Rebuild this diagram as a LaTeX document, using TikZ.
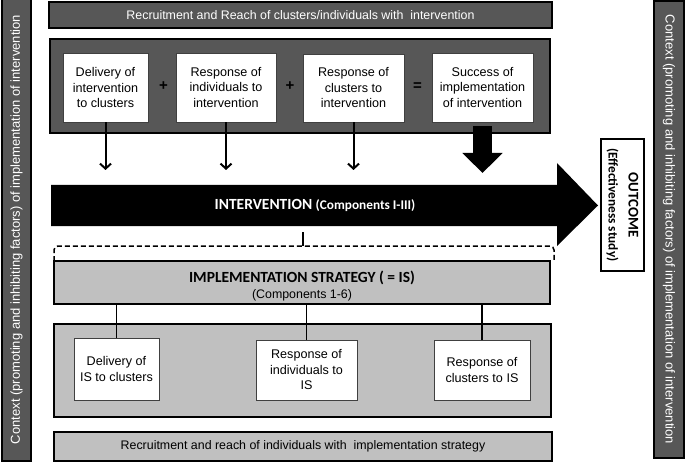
\documentclass[tikz,border=0pt]{standalone}
\usepackage{fontspec}
\setmainfont{Liberation Sans}
\newfontfamily\calib{Carlito}
\usetikzlibrary{arrows.meta}
\definecolor{dgray}{HTML}{575757}
\definecolor{lgray}{HTML}{C0C0C0}
\begin{document}
\begin{tikzpicture}[x=1pt,y=-1pt,
  darkbar/.style={draw=black, line width=1.6pt, fill=dgray, text=white, inner sep=0pt, font=\fontsize{12.4}{14}\selectfont},
  whitebox/.style={draw=black!75, line width=0.8pt, fill=white, align=center, inner sep=0pt, font=\fontsize{12.6}{15.5}\selectfont},
  lightbox/.style={draw=black, line width=1.9pt, fill=lgray, inner sep=0pt},
  thinarrow/.style={line width=2pt, -{Straight Barb[length=5pt,width=11pt]}},
  joinline/.style={line width=1.8pt},
  opsign/.style={font=\bfseries\fontsize{15}{15}\selectfont, inner sep=0pt}]
\useasboundingbox (0,0) rectangle (685,465);

% context bars
\node[darkbar, rotate=90, minimum width=463, minimum height=29, font=\fontsize{13}{14}\selectfont] (ctxl) at (16.5,229.5)
  {Context (promoting and inhibiting factors) of implementation of intervention};
\node[darkbar, rotate=-90, minimum width=457, minimum height=30, font=\fontsize{13}{14}\selectfont] (ctxr) at (669,229.5)
  {Context (promoting and inhibiting factors) of implementation of intervention};

% top
\node[darkbar, minimum width=503, minimum height=26] (top) at (300.5,15)
  {Recruitment and Reach of clusters/individuals with\ \ intervention};
\node[darkbar, line width=1.9pt, minimum width=500, minimum height=94] (upper) at (300,86) {};

\node[whitebox, minimum width=85, minimum height=69] (b1) at (105.5,87.5) {Delivery of\\intervention\\to clusters};
\node[whitebox, minimum width=100, minimum height=69] (b2) at (226,87.5) {Response of\\individuals to\\intervention};
\node[whitebox, minimum width=101, minimum height=68] (b3) at (353.5,88) {Response of\\clusters to\\intervention};
\node[whitebox, minimum width=101, minimum height=69] (b4) at (482.5,87.5) {Success of\\implementation\\of intervention};
\node[opsign] (p1) at (163.5,86) {+};
\node[opsign] (p2) at (290,86) {+};
\node[opsign] (eq) at (417.5,86.5) {=};

% big intervention arrow
\fill[black] (51,185) -- (557,185) -- (557,163) -- (598,205.5) -- (557,246) -- (557,226) -- (51,226) -- cycle;
\node[text=white, inner sep=0pt, font=\calib\bfseries\fontsize{15.5}{15}\selectfont] (intv) at (315,205.5)
  {INTERVENTION {\fontsize{13.3}{13}\selectfont(Components I-III)}};

\coordinate (arrend) at (0,170);
\coordinate (fatend) at (0,173);
\draw[thinarrow] (b1.south) -- (b1.south |- arrend);
\draw[thinarrow] (b2.south) -- (b2.south |- arrend);
\draw[thinarrow] (b3.south) -- (b3.south |- arrend);
\draw[line width=19pt, -{Triangle[width=39pt,length=20pt]}] ([yshift=-4pt]b4.south) -- (b4.south |- fatend);

% outcome
\node[draw=black, line width=1.5pt, fill=white, rotate=-90, minimum width=132, minimum height=43,
  align=center, inner sep=0pt, font=\calib\bfseries\fontsize{14.8}{20}\selectfont] (out) at (622.5,205)
  {OUTCOME\\{\fontsize{13.3}{20}\selectfont(Effectiveness study)}};

% implementation strategy
\node[lightbox, minimum width=496, minimum height=43] (is) at (302,282.5) {};
\node[inner sep=0pt, font=\calib\bfseries\fontsize{15.5}{15}\selectfont] (istitle) at (302,277.5) {IMPLEMENTATION STRATEGY ( = IS)};
\node[inner sep=0pt, font=\fontsize{12.4}{14}\selectfont] (issub) at (302,295.5) {(Components 1-6)};

% dashed brace
\coordinate (brl) at (54,261);
\coordinate (brr) at (554,261);
\coordinate (brtop) at (0,246);
\coordinate (stubtop) at (303,232);
\draw[line width=1.5pt, dash pattern=on 5pt off 3pt, rounded corners=4pt]
  (brl) -- (brl |- brtop) -- (brr |- brtop) -- (brr);
\draw[joinline] (stubtop) -- (stubtop |- brtop);

% lower group
\node[lightbox, minimum width=497, minimum height=93] (lowbox) at (302.5,370.5) {};
\node[whitebox, minimum width=85, minimum height=62] (lb1) at (116.5,369) {Delivery of\\IS to clusters};
\node[whitebox, minimum width=101, minimum height=60] (lb2) at (306.5,370) {Response of\\individuals to\\IS};
\node[whitebox, minimum width=96, minimum height=60] (lb3) at (482,370) {Response of\\clusters to IS};
\draw[joinline] (lb1.north) -- (lb1.north |- is.south);
\draw[joinline] (lb2.north) -- (lb2.north |- is.south);
\draw[joinline] (lb3.north) -- (lb3.north |- is.south);

\node[lightbox, minimum width=498, minimum height=29, font=\fontsize{12.4}{14}\selectfont] (bot) at (303,446.5)
  {Recruitment and reach of individuals with\ \ implementation strategy};
\end{tikzpicture}
\end{document}
